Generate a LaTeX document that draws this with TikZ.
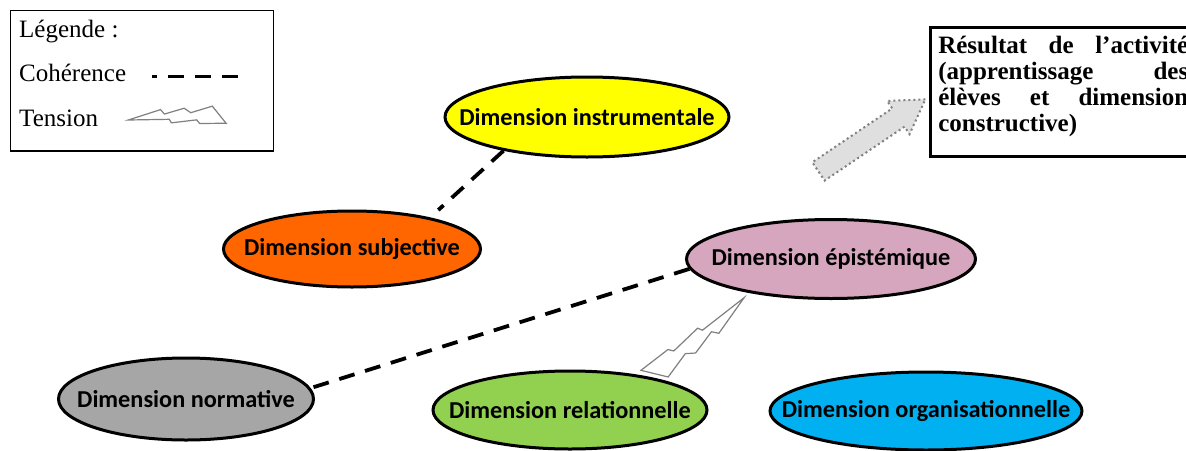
\documentclass[tikz,border=0pt]{standalone}
\usepackage{fontspec}
\setmainfont{Liberation Serif}
\newfontfamily\calibfont{Carlito}
\usepackage{xcolor}
\usetikzlibrary{shapes,arrows,calc,positioning}
\hyphenpenalty=10000

\definecolor{dimyellow}{HTML}{FFFF00}
\definecolor{dimorange}{HTML}{FF6600}
\definecolor{dimpink}{HTML}{D5A6BD}
\definecolor{dimgray}{HTML}{A6A6A6}
\definecolor{dimgreen}{HTML}{92D050}
\definecolor{dimblue}{HTML}{00B0F0}

\begin{document}
\begin{tikzpicture}[x=1pt,y=-1pt,
  dim/.style={ellipse,draw=black,line width=3pt,inner sep=0pt},
  dimlabel/.style={inner sep=0pt,text=black,font=\calibfont\fontsize{24.3}{29}\selectfont\bfseries},
  coherence/.style={line width=3.8pt,dash pattern=on 16pt off 11pt},
  tensbolt/.style={draw=gray,line width=1.2pt,fill=white,line join=miter},
  legendtext/.style={anchor=base west,inner sep=0pt,font=\fontsize{25}{30}\selectfont},
  resultbox/.style={draw,line width=3pt,outer sep=0pt,anchor=north west,
    inner xsep=8.3pt,inner ysep=8.4pt,text width=250pt,align=justify,
    font=\fontsize{25}{26.1}\selectfont\bfseries},
  outarrow/.style={single arrow,draw=gray,line width=2pt,dash pattern=on 2pt off 3pt,
    fill=gray!25,minimum height=129pt,minimum width=38pt,inner xsep=0pt,inner ysep=10pt,
    single arrow head extend=9pt,single arrow tip angle=63}
]
\useasboundingbox (0,0) rectangle (1186,450);

% legende
\draw[line width=1.3pt] (10.5,10.5) rectangle (273.5,151);
\node[legendtext] (legtitle) at (19,37.7) {Légende :};
\node[legendtext] (legcoh) at (19,81.7) {Cohérence};
\node[legendtext] (legtens) at (19,126.7) {Tension};
\path
  (152,76.5) coordinate (cohA)
  (245,76.5) coordinate (cohB)
  (128.3,120) coordinate (tensA)
  (219.2,114.7) coordinate (tensB);
\draw[coherence,dash phase=11pt] (cohA) -- (cohB);

% dimensions
\node[dim,fill=dimyellow,minimum width=284pt,minimum height=80pt,label={[dimlabel]center:Dimension instrumentale}] (instr) at (587,117) {};
\node[dim,fill=dimorange,minimum width=257pt,minimum height=76pt,label={[dimlabel]center:Dimension subjective}] (subj) at (352,249) {};
\node[dim,fill=dimpink,minimum width=289pt,minimum height=79pt,label={[dimlabel]center:Dimension épistémique}] (epist) at (831,259) {};
\node[dim,fill=dimgray,minimum width=255pt,minimum height=82pt,label={[dimlabel]center:Dimension normative}] (norm) at (186,399) {};
\node[dim,fill=dimgreen,minimum width=274pt,minimum height=78pt,label={[dimlabel]center:Dimension relationnelle}] (relat) at (570,410) {};
\node[dim,fill=dimblue,minimum width=312pt,minimum height=78pt,label={[dimlabel]center:Dimension organisationnelle}] (orga) at (926,411) {};

% resultat
\node[resultbox] (result) at (930,27.5) {Résultat de l’activité (apprentissage des élèves et dimension constructive)\rule[-17pt]{0pt}{0pt}};
\node[outarrow,anchor=tip,rotate=34] (arrow) at ([shift={(-3,6)}]result.west) {};

% liens
\draw[coherence,shorten >=11pt] (instr.202) -- (subj.22);
\draw[coherence] (epist.184) -- (norm.5);

\coordinate (tensTop) at ([shift={(-9,4)}]epist.204);
\coordinate (tensBot) at ([shift={(6,-3)}]relat.23);
\foreach \a/\b/\w in {tensA/tensB/0.85,tensTop/tensBot/1.08}
  \draw[tensbolt] (\a) -- ($(\a)!.36!(\b)!\w*10pt!-90:(\a)$)
    -- ($(\a)!.40!(\b)!\w*4.5pt!-90:(\a)$) -- ($(\a)!.62!(\b)!\w*10pt!-90:(\a)$)
    -- ($(\a)!.69!(\b)!\w*4.3pt!-90:(\a)$) -- ($(\a)!.93!(\b)!\w*10.5pt!-90:(\a)$)
    -- ($(\a)!1.07!(\b)!-\w*10.5pt!-90:(\a)$) -- ($(\a)!.78!(\b)!-\w*9pt!-90:(\a)$)
    -- ($(\a)!.75!(\b)!-\w*4.5pt!-90:(\a)$) -- ($(\a)!.47!(\b)!-\w*6.3pt!-90:(\a)$)
    -- ($(\a)!.45!(\b)!-\w*2pt!-90:(\a)$) -- cycle;

\end{tikzpicture}
\end{document}
